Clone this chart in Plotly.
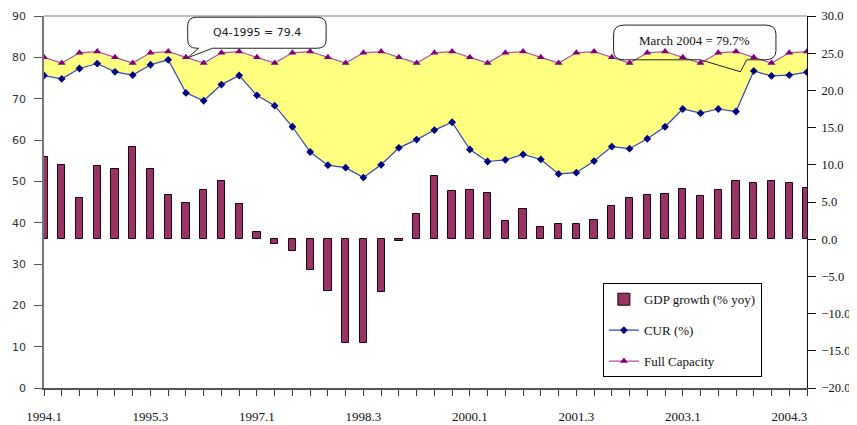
import plotly.graph_objects as go

quarters = ["1994.1","1994.2","1994.3","1994.4","1995.1","1995.2","1995.3","1995.4",
            "1996.1","1996.2","1996.3","1996.4","1997.1","1997.2","1997.3","1997.4",
            "1998.1","1998.2","1998.3","1998.4","1999.1","1999.2","1999.3","1999.4",
            "2000.1","2000.2","2000.3","2000.4","2001.1","2001.2","2001.3","2001.4",
            "2002.1","2002.2","2002.3","2002.4","2003.1","2003.2","2003.3","2003.4",
            "2004.1","2004.2","2004.3","2004.4"]

gdp_growth = [11.0, 10.0, 5.5, 9.8, 9.5, 12.4, 9.5, 5.9, 4.8, 6.6, 7.8, 4.7,
              1.0, -0.6, -1.6, -4.2, -7.0, -13.9, -13.9, -7.1, -0.2, 3.4, 8.5, 6.5,
              6.6, 6.2, 2.4, 4.1, 1.7, 2.1, 2.1, 2.6, 4.4, 5.5, 5.9, 6.1,
              6.7, 5.8, 6.6, 7.8, 7.6, 7.8, 7.6, 6.9]

cur = [75.6, 74.8, 77.3, 78.5, 76.5, 75.7, 78.2, 79.4, 71.4, 69.5, 73.4, 75.6,
       70.8, 68.3, 63.2, 57.1, 53.9, 53.3, 50.9, 54.0, 58.1, 60.1, 62.4, 64.3,
       57.7, 54.8, 55.2, 56.5, 55.3, 51.8, 52.1, 54.9, 58.4, 57.9, 60.3, 63.2,
       67.5, 66.5, 67.5, 66.9, 76.7, 75.5, 75.7, 76.4]

full_capacity = [80.0, 78.6, 81.1, 81.4, 80.0, 78.6, 81.1, 81.4, 80.0, 78.6, 81.1, 81.4,
                 80.0, 78.6, 81.1, 81.4, 80.0, 78.6, 81.1, 81.4, 80.0, 78.6, 81.1, 81.4,
                 80.0, 78.6, 81.1, 81.4, 80.0, 78.6, 81.1, 81.4, 80.0, 78.6, 81.1, 81.4,
                 80.0, 78.6, 81.1, 81.4, 80.0, 78.6, 81.1, 81.4]

label_every = 6
idx = list(range(len(quarters)))
ticktext = [q if i % label_every == 0 else "" for i, q in enumerate(quarters)]

cur_line = dict(color="#3344bb", width=1.2)
cur_marker = dict(symbol="diamond", size=6, color="#000080")
fc_line = dict(color="#aa55aa", width=1.2)
fc_marker = dict(symbol="triangle-up", size=7, color="#800080")

fig = go.Figure()
fig.add_trace(go.Bar(
    x=idx, y=gdp_growth, yaxis="y2", name="GDP growth (% yoy)", width=0.41,
    marker=dict(color="#993366", line=dict(color="#1a0010", width=1)),
    legendgroup="a"))
fig.add_trace(go.Scatter(
    x=idx, y=cur, mode="lines+markers", name="CUR (%)",
    line=cur_line, marker=cur_marker, legendgroup="b"))
fig.add_trace(go.Scatter(
    x=idx, y=full_capacity, mode="lines+markers", name="Full Capacity",
    fill="tonexty", fillcolor="#FFFF80",
    line=fc_line, marker=fc_marker, legendgroup="c", showlegend=False))
# legend-only entry (line + marker, no fill swatch)
fig.add_trace(go.Scatter(
    x=[None], y=[None], mode="lines+markers", name="Full Capacity",
    line=fc_line, marker=fc_marker, legendgroup="c", showlegend=True))

def rounded_box(x0, x1, y0, y1, rx, ry, tail=None):
    p = f"M {x0+rx},{y1} L {x1-rx},{y1} Q {x1},{y1} {x1},{y1-ry} L {x1},{y0+ry} Q {x1},{y0} {x1-rx},{y0} "
    if tail:
        xa, xb, xt, yt = tail
        p += f"L {xb},{y0} L {xt},{yt} L {xa},{y0} "
    p += f"L {x0+rx},{y0} Q {x0},{y0} {x0},{y0+ry} L {x0},{y1-ry} Q {x0},{y1} {x0+rx},{y1} Z"
    return p

shapes = [
    dict(type="line", xref="paper", yref="paper", x0=0, x1=1, y0=1, y1=1,
         line=dict(color="#c0c0c0", width=2)),
    dict(type="path", xref="x", yref="y",
         path=rounded_box(8.1, 15.9, 82.2, 89.7, 0.5, 2.0, tail=(8.72, 9.5, 8.1, 79.9)),
         line=dict(color="#222222", width=1)),
    dict(type="path", xref="x", yref="y",
         path=rounded_box(32.1, 41.25, 79.4, 87.8, 0.6, 2.2, tail=(37.0, 39.6, 39.25, 76.5)),
         line=dict(color="#222222", width=1)),
]

annotations = [
    dict(x=12.0, y=85.9, xref="x", yref="y", text="Q4-1995 = 79.4", showarrow=False,
         font=dict(family="DejaVu Sans", size=11, color="#222222")),
    dict(x=36.66, y=84.0, xref="x", yref="y", text="March 2004 = 79.7%", showarrow=False,
         font=dict(family="Liberation Serif", size=13, color="#111111")),
]

# page body adds an 8px offset; size the figure so the plot area lands where the reference has it
fig.update_layout(
    width=849, height=417,
    margin=dict(l=36, r=50, t=8, b=37, autoexpand=False),
    paper_bgcolor="white", plot_bgcolor="white",
    showlegend=True,
    legend=dict(x=0.7325, y=0.2815, xanchor="left", yanchor="top",
                bgcolor="white", bordercolor="black", borderwidth=1,
                font=dict(family="Liberation Serif", size=13, color="#111111"),
                traceorder="grouped", tracegroupgap=11),
    xaxis=dict(range=[0, 43], tickmode="array", tickvals=idx, ticktext=ticktext,
               ticks="outside", ticklen=6, tickcolor="#333333", showgrid=False,
               zeroline=False, showline=True, linecolor="#555555", linewidth=1.5,
               tickfont=dict(family="Liberation Serif", size=13, color="#111111"),
               ticklabelstandoff=10, automargin=False),
    yaxis=dict(range=[0, 90], dtick=10, ticks="outside", ticklen=8, tickcolor="#555555",
               showgrid=False, zeroline=False, showline=True, linecolor="#777777",
               linewidth=1.5, tickfont=dict(family="DejaVu Sans", size=11, color="#333333"),
               ticklabelstandoff=6, automargin=False),
    yaxis2=dict(range=[-20, 30], dtick=5, tickformat=".1f", overlaying="y", side="right",
                ticks="outside", ticklen=8, tickcolor="#111111", showgrid=False,
                zeroline=False, showline=True, linecolor="#111111", linewidth=1,
                tickfont=dict(family="Liberation Serif", size=12.5, color="#111111"),
                ticklabelstandoff=3, automargin=False),
    shapes=shapes, annotations=annotations,
    bargap=0,
)

fig.write_html("out.html")
